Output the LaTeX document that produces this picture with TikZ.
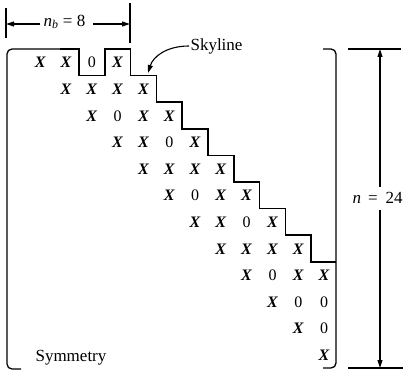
\documentclass[tikz,border=0pt]{standalone}
\usepackage{fontspec}
\setmainfont{Liberation Serif}
\usetikzlibrary{arrows.meta}
\def\symX{X}
\begin{document}
\begin{tikzpicture}[x=1pt,y=-1pt,line width=1.1pt,
  entry/.style={font=\fontsize{16}{16}\selectfont,inner sep=0pt,anchor=base},
  lbl/.style={font=\fontsize{17}{17}\selectfont,inner sep=1pt},
  dimtip/.style={-{Triangle[length=8pt,width=5pt]}},
  skyline/.style={line width=1.5pt,line join=miter},
  bracket/.style={line width=1.3pt,rounded corners=5pt}]
\useasboundingbox (0,0) rectangle (407,371);
% matrix entries
\foreach \i/\k/\s in {1/1/X,1/2/X,1/3/0,1/4/X,
  2/2/X,2/3/X,2/4/X,2/5/X,
  3/3/X,3/4/0,3/5/X,3/6/X,
  4/4/X,4/5/X,4/6/0,4/7/X,
  5/5/X,5/6/X,5/7/X,5/8/X,
  6/6/X,6/7/0,6/8/X,6/9/X,
  7/7/X,7/8/X,7/9/0,7/10/X,
  8/8/X,8/9/X,8/10/X,8/11/X,
  9/9/X,9/10/0,9/11/X,9/12/X,
  10/10/X,10/11/0,10/12/0,
  11/11/X,11/12/0,
  12/12/X}{
  \pgfmathsetmacro{\cx}{40.3+(\k-1)*25.8}
  \pgfmathsetmacro{\ry}{62.3+(\i-1)*26.6+5.6}
  \node[entry] (e\i-\k) at (\cx,\ry) {\ifx\s\symX\textbf{\textit{X}}\else 0\fi};
}
% left bracket and skyline
\draw[bracket] (21,369) -- (7,369) -- (7,49) -- (60,49) [sharp corners] -- (79,49);
\draw[skyline] (60,49) -- (79,49) -- (79,75.6) -- (104.8,75.6) -- (104.8,49)
  -- (130.6,49) -- (130.6,75.6) -- (156.4,75.6) -- (156.4,102.2)
  -- (182.2,102.2) -- (182.2,128.8) -- (208,128.8) -- (208,155.4)
  -- (233.8,155.4) -- (233.8,182) -- (259.6,182) -- (259.6,208.6)
  -- (285.4,208.6) -- (285.4,235.2) -- (311.2,235.2) -- (311.2,261.8)
  -- (336,261.8);
% right bracket
\draw[bracket] (323,49) -- (336,49) -- (336,368) -- (323,368);
% n_b dimension
\draw (6,8) -- (6,38);
\draw (130,3) -- (130,43);
\node[lbl] (nb) at (64.5,22) {\textit{n}\textsubscript{\textit{b}} = 8};
\coordinate (nbL) at (6,24);
\coordinate (nbR) at (130,24);
\draw[dimtip] (nb.west |- nbL) ++(-2,0) -- (nbL);
\draw[dimtip] (nb.east |- nbR) ++(6,0) -- (nbR);
% n dimension
\draw (348,49) -- (401,49);
\draw (348,368) -- (403,368);
\node[lbl,anchor=west,inner sep=0pt] (n) at (352,198) {\textit{n}\hspace{7pt}=\hspace{8pt}24};
\coordinate (nT) at (380,49);
\coordinate (nB) at (380,368);
\draw[dimtip] (380,187) -- (nT);
\draw[dimtip] (380,210) -- (nB);
% skyline label
\node[lbl,anchor=west] (sky) at (189,46) {Skyline};
\coordinate (skytip) at (148,73);
\draw[-{Triangle[length=8pt,width=5pt]}] (sky.west) .. controls (166,46) and (153,57) .. (skytip);
% symmetry label
\node[lbl,anchor=base west] (sym) at (34,362) {Symmetry};
\end{tikzpicture}
\end{document}
